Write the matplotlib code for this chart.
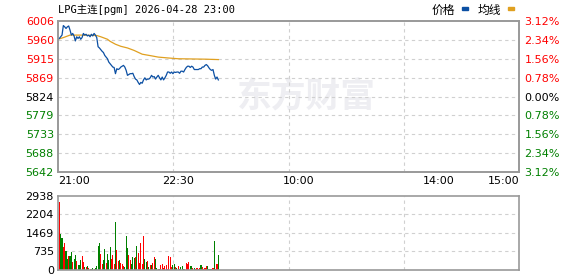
import matplotlib.pyplot as plt

plt.rcParams['font.family'] = ['DejaVu Sans']

# 分时数据 21:00 - 23:00 (по минутам)
title = 'LPG主连[pgm] 2026-04-28 23:00'
prev_close = 5824
price = [5962, 5964, 5968, 5972, 5995, 5992, 5988, 5992, 5994, 5984,
         5972, 5976, 5970, 5958, 5968, 5964, 5968, 5962, 5966, 5976,
         5972, 5974, 5970, 5972, 5968, 5974, 5970, 5976, 5972, 5966,
         5944, 5941, 5937, 5933, 5930, 5923, 5919, 5915, 5907, 5903,
         5899, 5895, 5894, 5879, 5891, 5889, 5891, 5895, 5897, 5899,
         5895, 5887, 5875, 5877, 5879, 5879, 5880, 5872, 5866, 5864,
         5858, 5853, 5858, 5856, 5864, 5869, 5864, 5866, 5866, 5869,
         5875, 5871, 5872, 5866, 5871, 5875, 5869, 5864, 5871, 5864,
         5869, 5875, 5883, 5883, 5880, 5883, 5879, 5883, 5882, 5883,
         5883, 5880, 5885, 5885, 5883, 5889, 5894, 5897, 5897, 5894,
         5897, 5895, 5889, 5889, 5889, 5889, 5891, 5891, 5895, 5895,
         5899, 5901, 5898, 5893, 5889, 5887, 5889, 5875, 5866, 5871,
         5864]

avg_minutes = [0, 4, 9, 17, 29, 32, 37, 39, 43, 47, 52, 57, 63, 70, 75, 82, 90, 110, 120]
avg_values = [5962, 5966, 5972, 5972, 5971, 5968, 5962, 5957, 5950, 5945,
              5941, 5935, 5926, 5922, 5919, 5917, 5915, 5914, 5913]

volume = [2700, 1430, 1270, 925, 1085, 755, 450, 555, 555, 715,
          320, 425, 595, 360, 210, 210, 400, 555, 320, 120,
          120, 160, 80, 40, 40, 80, 40, 65, 160, 950,
          1070, 635, 240, 400, 835, 290, 635, 400, 915, 435,
          595, 240, 1905, 795, 360, 400, 280, 240, 160, 120,
          1350, 875, 595, 400, 240, 515, 475, 515, 950, 675,
          280, 1070, 240, 1350, 435, 320, 360, 120, 200, 200,
          280, 515, 435, 80, 40, 30, 200, 240, 80, 160,
          200, 30, 555, 515, 105, 200, 240, 120, 80, 160,
          40, 120, 160, 40, 40, 280, 240, 320, 160, 160,
          80, 80, 40, 80, 30, 80, 200, 120, 40, 80,
          160, 160, 40, 30, 40, 80, 1150, 30, 240, 595]
vol_dir = ('rggrrggrgg' 'rggrgggrrg' 'rgrrggrggg' 'grrggrgggr'
           'rrgrrgrrrg' 'ggrrgggrgr' 'rrrrggrgrg' 'rrggrgrrrr'
           'rrrrrggrgr' 'ggggrrrrgg' 'rgrrgrgrrr' 'rggggrgrrg')

price_ticks = [6006, 5960, 5915, 5869, 5824, 5779, 5733, 5688, 5642]
pct_labels = ['3.12%', '2.34%', '1.56%', '0.78%', '0.00%', '0.78%', '1.56%', '2.34%', '3.12%']
vol_ticks = [0, 735, 1469, 2204, 2938]
time_pos = [0, 90, 180, 285, 345]
time_labels = ['21:00', '22:30', '10:00', '14:00', '15:00']
total_minutes = 345

W, H = 578, 276
fig = plt.figure(figsize=(W / 100, H / 100), dpi=100)
fig.patch.set_facecolor('white')

border = '#999999'
grid_kw = dict(color='#d0d0d0', lw=0.8, linestyle=(0, (3, 3)))
tick_color = lambda v: 'red' if v > prev_close else ('green' if v < prev_close else 'black')

# Основной график
ax = fig.add_axes([58 / W, (H - 172) / H, 461 / W, 151 / H])
ax.set_xlim(0, total_minutes)
ax.set_ylim(price_ticks[-1], price_ticks[0])
for v in price_ticks[1:-1]:
    ax.axhline(v, **grid_kw, zorder=1)
for q in (1, 2, 3):
    ax.axvline(total_minutes * q / 4, **grid_kw, zorder=1)

ax.text(0.54, 0.5, '东方财富', transform=ax.transAxes, ha='center', va='center',
        fontsize=25, fontweight='bold', color='#eeeef2', family=['Noto Sans CJK SC'], zorder=0.5)

ax.plot(range(len(price)), price, color='#0b4fa3', lw=0.9, zorder=3)
ax.plot(avg_minutes, avg_values, color='#e0a020', lw=0.9, zorder=2)

ax.set_yticks(price_ticks)
ax.set_yticklabels([str(v) for v in price_ticks], fontsize=8)
for lab, v in zip(ax.get_yticklabels(), price_ticks):
    lab.set_color(tick_color(v))
ax.set_xticks(time_pos)
ax.set_xticklabels(time_labels, fontsize=8)
xl = ax.get_xticklabels()
xl[0].set_ha('left')
xl[-1].set_ha('right')
ax.tick_params(length=0, pad=3)

ax2 = ax.twinx()
ax2.set_ylim(ax.get_ylim())
ax2.set_yticks(price_ticks)
ax2.set_yticklabels(pct_labels, fontsize=8)
for lab, v in zip(ax2.get_yticklabels(), price_ticks):
    lab.set_color(tick_color(v))
ax2.tick_params(length=0, pad=4)

for a in (ax, ax2):
    for s in a.spines.values():
        s.set_color(border)
        s.set_linewidth(1.2)

# Объём
axv = fig.add_axes([58 / W, 6 / H, 461 / W, 74 / H])
axv.set_xlim(0, total_minutes)
axv.set_ylim(0, vol_ticks[-1])
for v in vol_ticks[1:-1]:
    axv.axhline(v, **grid_kw, zorder=1)
for q in (1, 2, 3):
    axv.axvline(total_minutes * q / 4, **grid_kw, zorder=1)
colors = ['#ff0000' if c == 'r' else '#008000' for c in vol_dir]
axv.bar(range(1, len(volume) + 1), volume, width=0.8, color=colors, zorder=2)
axv.set_yticks(vol_ticks)
axv.set_yticklabels([str(v) for v in vol_ticks], fontsize=8)
axv.set_xticks([])
axv.tick_params(length=0, pad=3)
for s in axv.spines.values():
    s.set_color(border)
    s.set_linewidth(1.2)

# Заголовок и легенда
cjk = ['Noto Sans CJK SC', 'DejaVu Sans']
fig.text(58 / W, 1 - 10 / H, title, fontsize=7.5, family=['DejaVu Sans Mono', 'Noto Sans CJK SC'],
         va='center', ha='left')
fig.text(443 / W, 1 - 10 / H, '价格', fontsize=8.5, family=cjk, va='center', ha='center')
fig.text(489 / W, 1 - 10 / H, '均线', fontsize=8.5, family=cjk, va='center', ha='center')
fig.add_artist(plt.Rectangle((462 / W, 1 - 10 / H), 6 / W, 3 / H, color='#0b4fa3'))
fig.add_artist(plt.Rectangle((508 / W, 1 - 10 / H), 6 / W, 3 / H, color='#e0a020'))

fig.savefig('out.png', dpi=100)
